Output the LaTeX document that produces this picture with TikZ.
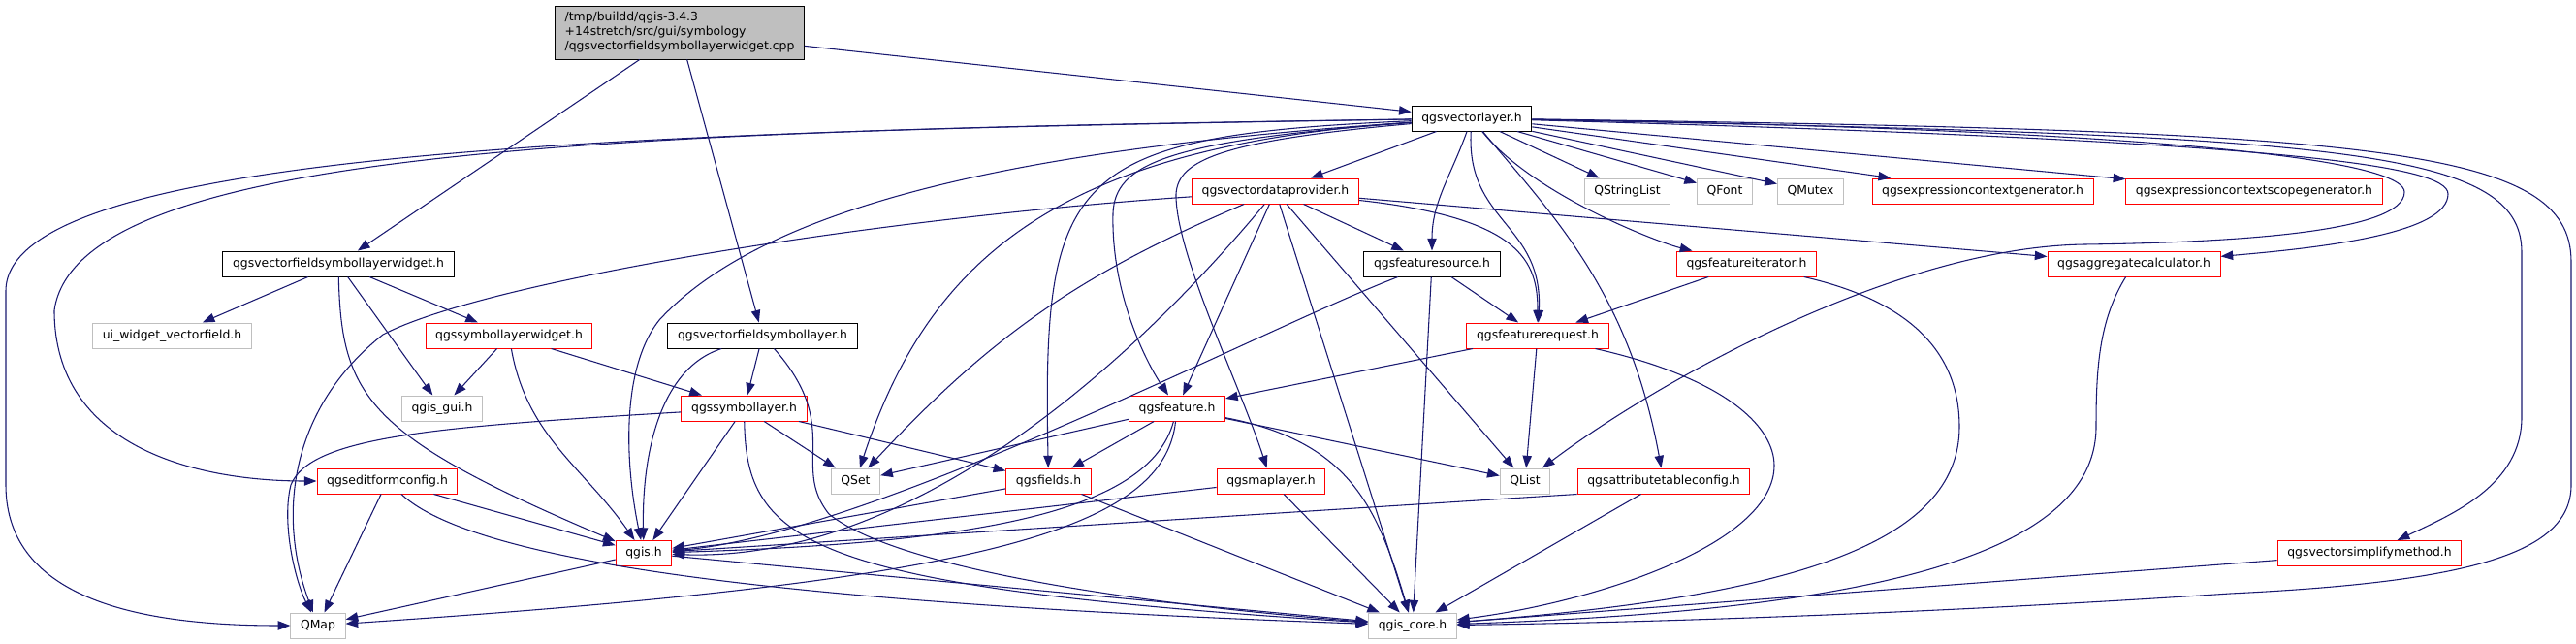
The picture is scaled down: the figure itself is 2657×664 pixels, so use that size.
\documentclass[tikz,border=0pt]{standalone}
\usepackage{fontspec}
\setmainfont{DejaVu Sans}
\usepackage{tikz}
\usetikzlibrary{arrows.meta}

\definecolor{edgeblue}{HTML}{191970}
\definecolor{boxgrey}{HTML}{BFBFBF}

\begin{document}
\begin{tikzpicture}[
        x=0.75pt, y=-0.75pt,
        % Stile dei rettangoli
        box/.style={
            draw,
            line width=0.75pt,
            font=\fontsize{9.3}{11.25}\selectfont,
            inner xsep=7.6pt,
            inner ysep=0pt,
            minimum height=19.5pt
        },
        docbox/.style={box, draw=black},
        extbox/.style={box, draw=boxgrey},
        redbox/.style={box, draw=red},
        % Stile delle frecce
        dep/.style={->, draw=edgeblue, line width=0.8pt},
        >={Triangle[length=9.5pt, width=7pt]},
    ]

    \useasboundingbox (0,0) rectangle (2657,664);

    \node[box, fill=boxgrey, align=left, minimum height=41.25pt] (cpp) at (701,33.5)
        {/tmp/buildd/qgis-3.4.3\\+14stretch/src/gui/symbology\\/qgsvectorfieldsymbollayerwidget.cpp};

    % riga 1
    \node[docbox] (vlayer) at (1518,122) {qgsvectorlayer.h};

    % riga 2
    \node[redbox] (provider) at (1315.5,197) {qgsvectordataprovider.h};
    \node[extbox] (strlist) at (1678.5,197) {QStringList};
    \node[extbox] (qfont) at (1779,197) {QFont};
    \node[extbox] (qmutex) at (1867.5,197) {QMutex};
    \node[redbox] (ctxgen) at (2045,197) {qgsexpressioncontextgenerator.h};
    \node[redbox] (scopegen) at (2325,197) {qgsexpressioncontextscopegenerator.h};

    % riga 3
    \node[docbox] (widgeth) at (349,272) {qgsvectorfieldsymbollayerwidget.h};
    \node[docbox] (fsource) at (1477,272) {qgsfeaturesource.h};
    \node[redbox] (fiter) at (1801.5,272) {qgsfeatureiterator.h};
    \node[redbox] (aggcalc) at (2201,272) {qgsaggregatecalculator.h};

    % riga 4
    \node[extbox] (uiwidget) at (177.5,346) {ui\_widget\_vectorfield.h};
    \node[redbox] (symwidget) at (525,346) {qgssymbollayerwidget.h};
    \node[docbox] (fieldlayer) at (786.5,346) {qgsvectorfieldsymbollayer.h};
    \node[redbox] (frequest) at (1586,346) {qgsfeaturerequest.h};

    % riga 5
    \node[extbox] (gisgui) at (456,421) {qgis\_gui.h};
    \node[redbox] (symlayer) at (767.5,421) {qgssymbollayer.h};
    \node[redbox] (feature) at (1214,421) {qgsfeature.h};

    % riga 6
    \node[redbox] (editform) at (399.5,496) {qgseditformconfig.h};
    \node[extbox] (qset) at (882.5,496) {QSet};
    \node[redbox] (fields) at (1081.5,496) {qgsfields.h};
    \node[redbox] (maplayer) at (1311,496) {qgsmaplayer.h};
    \node[extbox] (qlist) at (1573,496) {QList};
    \node[redbox] (attrconf) at (1716,496) {qgsattributetableconfig.h};

    % riga 7 e 8
    \node[redbox] (qgis) at (664,570.5) {qgis.h};
    \node[redbox] (simplify) at (2444,570.5) {qgsvectorsimplifymethod.h};
    \node[extbox] (qmap) at (328,645) {QMap};
    \node[extbox] (core) at (1457,645) {qgis\_core.h};

    % dal file sorgente
    \draw[dep] (cpp) -- (vlayer);
    \draw[dep] (cpp) -- (widgeth);
    \draw[dep] (cpp) -- (fieldlayer);

    \draw[dep] (widgeth) -- (uiwidget);
    \draw[dep] (widgeth) -- (symwidget);
    \draw[dep] (widgeth) -- (gisgui);
    \draw[dep] (widgeth) .. controls (352,410) and (380,450) .. (qgis);

    \draw[dep] (symwidget) -- (gisgui);
    \draw[dep] (symwidget) -- (symlayer);
    \draw[dep] (symwidget) to[out=-80, in=125] (qgis);

    \draw[dep] (fieldlayer) -- (symlayer);
    \draw[dep] (fieldlayer) .. controls (680,380) and (662,470) .. (qgis);
    \draw[dep] (fieldlayer) .. controls (870,440) and (815,480) .. (855,530)
        .. controls (930,590) and (1200,625) .. (core);

    \draw[dep] (symlayer) .. controls (450,440) and (320,450) .. (300,500)
        .. controls (290,540) and (305,600) .. (qmap);
    \draw[dep] (symlayer) -- (qgis);
    \draw[dep] (symlayer) -- (qset);
    \draw[dep] (symlayer) -- (fields);
    \draw[dep] (symlayer) .. controls (770,560) and (830,605) .. (core);

    \draw[dep] (editform) -- (qmap);
    \draw[dep] (editform) -- (qgis);
    \draw[dep] (editform) .. controls (500,590) and (900,625) .. (core);

    \draw[dep] (qgis) -- (qmap);
    \draw[dep] (qgis) -- (core);

    % dal layer vettoriale
    \draw[dep] (vlayer) .. controls (700,135) and (6,150) .. (6,300) -- (6,500)
        .. controls (6,620) and (150,645) .. (qmap);
    \draw[dep] (vlayer) .. controls (650,135) and (80,150) .. (56,320)
        .. controls (56,460) and (200,496) .. (editform);
    \draw[dep] (vlayer) .. controls (1100,150) and (800,200) .. (680,330)
        .. controls (640,380) and (645,480) .. (qgis);
    \draw[dep] (vlayer) .. controls (1100,150) and (960,260) .. (qset);
    \draw[dep] (vlayer) -- (provider);
    \draw[dep] (vlayer) .. controls (1100,140) and (1075,180) .. (fields);
    \draw[dep] (vlayer) .. controls (1200,145) and (1150,170) .. (1148,220)
        .. controls (1146,300) and (1180,370) .. (feature);
    \draw[dep] (vlayer) .. controls (1260,145) and (1215,165) .. (1213,200)
        .. controls (1212,260) and (1280,400) .. (maplayer);
    \draw[dep] (vlayer) to[out=-110, in=90] (fsource);
    \draw[dep] (vlayer) .. controls (1512,230) and (1592,230) .. (frequest);
    \draw[dep] (vlayer) .. controls (1600,220) and (1680,300) .. (attrconf);
    \draw[dep] (vlayer) .. controls (1580,200) and (1710,250) .. (fiter);
    \draw[dep] (vlayer) -- (strlist);
    \draw[dep] (vlayer) -- (qfont);
    \draw[dep] (vlayer) -- (qmutex);
    \draw[dep] (vlayer) -- (ctxgen);
    \draw[dep] (vlayer) -- (scopegen);
    \draw[dep] (vlayer) .. controls (2300,135) and (2480,170) .. (2480,198)
        .. controls (2480,240) and (2300,250) .. (2150,252)
        .. controls (1950,255) and (1700,400) .. (qlist);
    \draw[dep] (vlayer) .. controls (2350,145) and (2525,170) .. (2525,200)
        .. controls (2525,240) and (2400,255) .. (aggcalc);
    \draw[dep] (vlayer) .. controls (2400,140) and (2601,150) .. (2601,260) -- (2601,430)
        .. controls (2601,500) and (2530,530) .. (simplify);
    \draw[dep] (vlayer) .. controls (2450,135) and (2652,150) .. (2652,270) -- (2652,500)
        .. controls (2652,570) and (2550,600) .. (2300,612)
        .. controls (2000,632) and (1700,642) .. (core);

    % dal data provider
    \draw[dep] (provider) .. controls (900,225) and (500,290) .. (395,345)
        .. controls (300,420) and (285,530) .. (qmap);
    \draw[dep] (provider) to[bend right=12] (qset);
    \draw[dep] (provider) .. controls (1180,360) and (950,580) .. (qgis);
    \draw[dep] (provider) -- (feature);
    \draw[dep] (provider) -- (core);
    \draw[dep] (provider) -- (qlist);
    \draw[dep] (provider) -- (fsource);
    \draw[dep] (provider) .. controls (1570,225) and (1586,270) .. (frequest);
    \draw[dep] (provider) -- (aggcalc);

    \draw[dep] (fsource) .. controls (1300,340) and (900,550) .. (qgis);
    \draw[dep] (fsource) -- (core);
    \draw[dep] (fsource) -- (frequest);

    \draw[dep] (fiter) -- (frequest);
    \draw[dep] (fiter) .. controls (1990,315) and (2021,380) .. (2021,440)
        .. controls (2021,560) and (1850,615) .. (core);

    \draw[dep] (aggcalc) .. controls (2165,330) and (2162,380) .. (2162,440)
        .. controls (2162,580) and (1900,630) .. (core);

    \draw[dep] (frequest) -- (feature);
    \draw[dep] (frequest) -- (qlist);
    \draw[dep] (frequest) .. controls (1780,390) and (1830,440) .. (1830,480)
        .. controls (1830,560) and (1650,620) .. (core);

    % dalla feature
    \draw[dep] (feature) -- (qset);
    \draw[dep] (feature) -- (fields);
    \draw[dep] (feature) .. controls (1185,530) and (1000,560) .. (qgis);
    \draw[dep] (feature) .. controls (1200,550) and (1000,600) .. (qmap);
    \draw[dep] (feature) .. controls (1390,455) and (1420,520) .. (core);
    \draw[dep] (feature) -- (qlist);

    \draw[dep] (fields) -- (qgis);
    \draw[dep] (fields) -- (core);
    \draw[dep] (maplayer) -- (qgis);
    \draw[dep] (maplayer) -- (core);
    \draw[dep] (attrconf.south west) -- (qgis);
    \draw[dep] (attrconf) -- (core);
    \draw[dep] (simplify) -- (core);

\end{tikzpicture}
\end{document}
